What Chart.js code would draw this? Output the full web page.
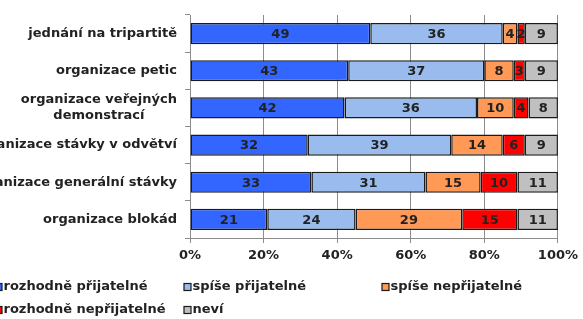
<!DOCTYPE html>
<html>
<head>
<meta charset="utf-8">
<script src="https://cdn.jsdelivr.net/npm/chart.js@4.4.1/dist/chart.umd.min.js"></script>
<style>
  html, body { margin: 0; padding: 0; background: #ffffff; }
  #wrap { position: relative; width: 583px; height: 319px; overflow: hidden; }
  canvas { display: block; }
</style>
</head>
<body>
<div id="wrap"><canvas id="c" width="583" height="319"></canvas></div>
<script>
// ---- data ----
const categories = [
  ['jednání na tripartitě'],
  ['organizace petic'],
  ['organizace veřejných', 'demonstrací'],
  ['organizace stávky v odvětví'],
  ['organizace generální stávky'],
  ['organizace blokád']
];
const seriesNames = ['rozhodně přijatelné', 'spíše přijatelné', 'spíše nepřijatelné', 'rozhodně nepřijatelné', 'neví'];
const rozhodnePrijatelne   = [49, 43, 42, 32, 33, 21];
const spisePrijatelne      = [36, 37, 36, 39, 31, 24];
const spiseNeprijatelne    = [4, 8, 10, 14, 15, 29];
const rozhodneNeprijatelne = [2, 3, 4, 6, 10, 15];
const nevi                 = [9, 9, 8, 9, 11, 11];
const xTickValues = [0, 20, 40, 60, 80, 100];

const seriesColors = ['#3366ff', '#99bbee', '#ff9955', '#ff0000', '#c0c0c0'];
const FONT = "'DejaVu Sans', Verdana, sans-serif";
const TEXT = '#222222';

const seriesData = [rozhodnePrijatelne, spisePrijatelne, spiseNeprijatelne, rozhodneNeprijatelne, nevi];

const datasets = seriesNames.map((name, i) => ({
  label: name,
  data: seriesData[i],
  backgroundColor: seriesColors[i],
  borderColor: '#1a1a1a',
  borderWidth: 1.5,
  borderSkipped: false,
  barPercentage: 0.57,
  categoryPercentage: 1.0
}));

// category labels drawn next to the y axis
const categoryLabelPlugin = {
  id: 'categoryLabels',
  afterDraw(chart) {
    const ctx = chart.ctx;
    const y = chart.scales.y;
    const rightX = 177;
    const lineH = 16;
    ctx.save();
    ctx.font = 'bold 13px ' + FONT;
    ctx.fillStyle = TEXT;
    ctx.textBaseline = 'middle';
    categories.forEach((lines, i) => {
      const cy = y.getPixelForValue(i);
      const top = cy - (lines.length - 1) * lineH / 2;
      const firstW = ctx.measureText(lines[0]).width;
      const firstCenter = rightX - firstW / 2;
      lines.forEach((ln, k) => {
        if (k === 0) {
          ctx.textAlign = 'right';
          ctx.fillText(ln, rightX, top);
        } else {
          ctx.textAlign = 'center';
          ctx.fillText(ln, firstCenter, top + k * lineH);
        }
      });
    });
    ctx.restore();
  }
};

// value labels in the middle of each segment
const valueLabelPlugin = {
  id: 'valueLabels',
  afterDatasetsDraw(chart) {
    const ctx = chart.ctx;
    ctx.save();
    ctx.font = 'bold 13px ' + FONT;
    ctx.fillStyle = TEXT;
    ctx.textAlign = 'center';
    ctx.textBaseline = 'middle';
    chart.data.datasets.forEach((ds, di) => {
      const meta = chart.getDatasetMeta(di);
      meta.data.forEach((el, i) => {
        const p = el.getProps(['x', 'y', 'base'], true);
        const cx = (p.x + p.base) / 2;
        ctx.fillText(String(ds.data[i]), cx, p.y + 1);
      });
    });
    ctx.restore();
  }
};

// legend in two rows, laid out in columns
const legendPlugin = {
  id: 'customLegend',
  afterDraw(chart) {
    const ctx = chart.ctx;
    const colX = [-5, 184, 382];
    const rowY = [287, 310];
    const box = 7;
    ctx.save();
    ctx.font = 'bold 13px ' + FONT;
    ctx.textBaseline = 'middle';
    ctx.textAlign = 'left';
    chart.data.datasets.forEach((ds, i) => {
      const row = i < 3 ? 0 : 1;
      const col = i < 3 ? i : i - 3;
      const x = colX[col];
      const y = rowY[row];
      ctx.fillStyle = ds.backgroundColor;
      ctx.fillRect(x, y - box / 2, box, box);
      ctx.strokeStyle = '#1a1a1a';
      ctx.lineWidth = 1.2;
      ctx.strokeRect(x, y - box / 2, box, box);
      ctx.fillStyle = TEXT;
      ctx.fillText(ds.label, x + box + 1.5, y);
    });
    ctx.restore();
  }
};

new Chart(document.getElementById('c'), {
  type: 'bar',
  data: { labels: categories.map(l => l.join(' ')), datasets },
  options: {
    indexAxis: 'y',
    responsive: false,
    animation: false,
    events: [],
    layout: { padding: { top: 15, right: 23, bottom: 0, left: 0 } },
    plugins: { legend: { display: false }, tooltip: { enabled: false } },
    scales: {
      x: {
        stacked: true,
        min: 0,
        max: 100,
        afterBuildTicks(scale) { scale.ticks = xTickValues.map(v => ({ value: v })); },
        ticks: {
          callback: v => v + '%',
          font: { family: FONT, size: 13, weight: 'bold' },
          color: TEXT,
          padding: 5,
          maxRotation: 0
        },
        grid: { color: '#8c8c8c', lineWidth: 1, drawTicks: true, tickLength: 5 },
        border: { color: '#8c8c8c', width: 1 },
        afterFit(scale) { scale.height = 81; }
      },
      y: {
        stacked: true,
        ticks: { display: false },
        grid: { drawOnChartArea: false, drawTicks: true, tickLength: 5, color: '#8c8c8c', offset: true },
        border: { color: '#8c8c8c', width: 1 },
        afterFit(scale) { scale.width = 190; }
      }
    }
  },
  plugins: [categoryLabelPlugin, valueLabelPlugin, legendPlugin]
});
</script>
</body>
</html>
